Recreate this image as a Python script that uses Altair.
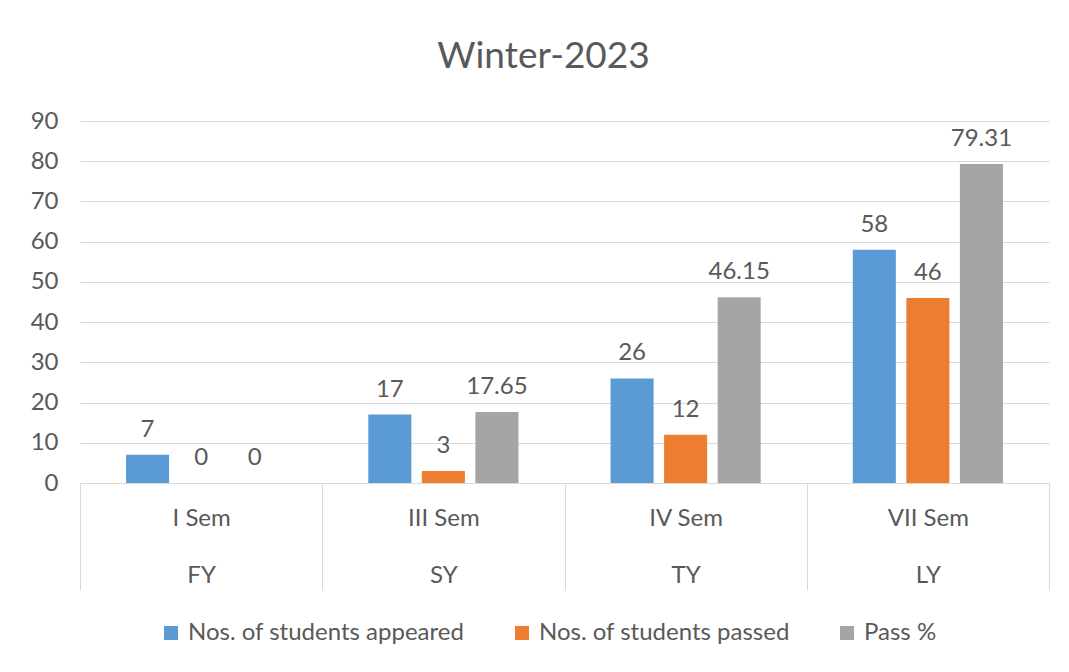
import altair as alt
import pandas as pd

semesters = ["I Sem", "III Sem", "IV Sem", "VII Sem"]
years = ["FY", "SY", "TY", "LY"]
series = ["Nos. of students appeared", "Nos. of students passed", "Pass %"]
appeared = [7, 17, 26, 58]
passed = [0, 3, 12, 46]
pass_pct = [0, 17.65, 46.15, 79.31]
colors = ["#5B9BD5", "#ED7D31", "#A5A5A5"]
y_ticks = list(range(0, 91, 10))

rows = []
for i, s in enumerate(semesters):
    for name, vals in zip(series, [appeared, passed, pass_pct]):
        rows.append({"sem": s, "series": name, "value": vals[i], "label": f"{vals[i]:g}"})
df = pd.DataFrame(rows)

# two-line category labels: semester on top, year below
expr = "''"
for s, yv in zip(reversed(semesters), reversed(years)):
    expr = f"datum.label == '{s}' ? ['{s}', '{yv}'] : ({expr})"

FONT = "Lato"
TXT = "#595959"
GRID = "#D9D9D9"

base = alt.Chart(df).encode(
    x=alt.X("sem:N", sort=semesters, title=None,
            scale=alt.Scale(paddingInner=0, paddingOuter=0),
            axis=alt.Axis(labelAngle=0, labelExpr=expr, labelFont=FONT, labelFontSize=24,
                          labelColor=TXT, labelLineHeight=57, labelBaseline="top",
                          tickBand="extent", tickSize=107, tickColor=GRID, tickWidth=1,
                          domainColor=GRID, labelPadding=-84)),
    xOffset=alt.XOffset("series:N", sort=series,
                        scale=alt.Scale(paddingInner=0.196, paddingOuter=0.86)),
    y=alt.Y("value:Q", title=None, scale=alt.Scale(domain=[0, 90]),
            axis=alt.Axis(values=y_ticks, ticks=False, domain=False, gridColor=GRID,
                          labelFont=FONT, labelFontSize=24, labelColor=TXT, labelPadding=22)),
)

bars = base.mark_bar().encode(
    color=alt.Color("series:N", sort=series,
                    scale=alt.Scale(domain=series, range=colors),
                    legend=alt.Legend(title=None, orient="none", direction="horizontal",
                                      legendX=79, legendY=500, symbolType="square",
                                      symbolSize=196, symbolStrokeWidth=0, labelFont=FONT,
                                      labelFontSize=24, labelColor=TXT, labelOffset=5,
                                      labelLimit=500, columnPadding=45))
)

labels = base.mark_text(baseline="bottom", dy=-13, font=FONT, fontSize=24, color=TXT).encode(
    text="label:N"
)

chart = alt.layer(bars, labels).properties(
    width=969, height=362,
    title=alt.TitleParams("Winter-2023", font=FONT, fontSize=37, fontWeight="normal",
                          color=TXT, anchor="middle", baseline="alphabetic", offset=4, dx=-21),
    autosize=alt.AutoSizeParams(type="none"),
    padding={"left": 72, "top": 113, "right": 4, "bottom": 170},
).configure_view(stroke=None)

chart.save("out.html", embed_options={"renderer": "svg", "actions": False})
